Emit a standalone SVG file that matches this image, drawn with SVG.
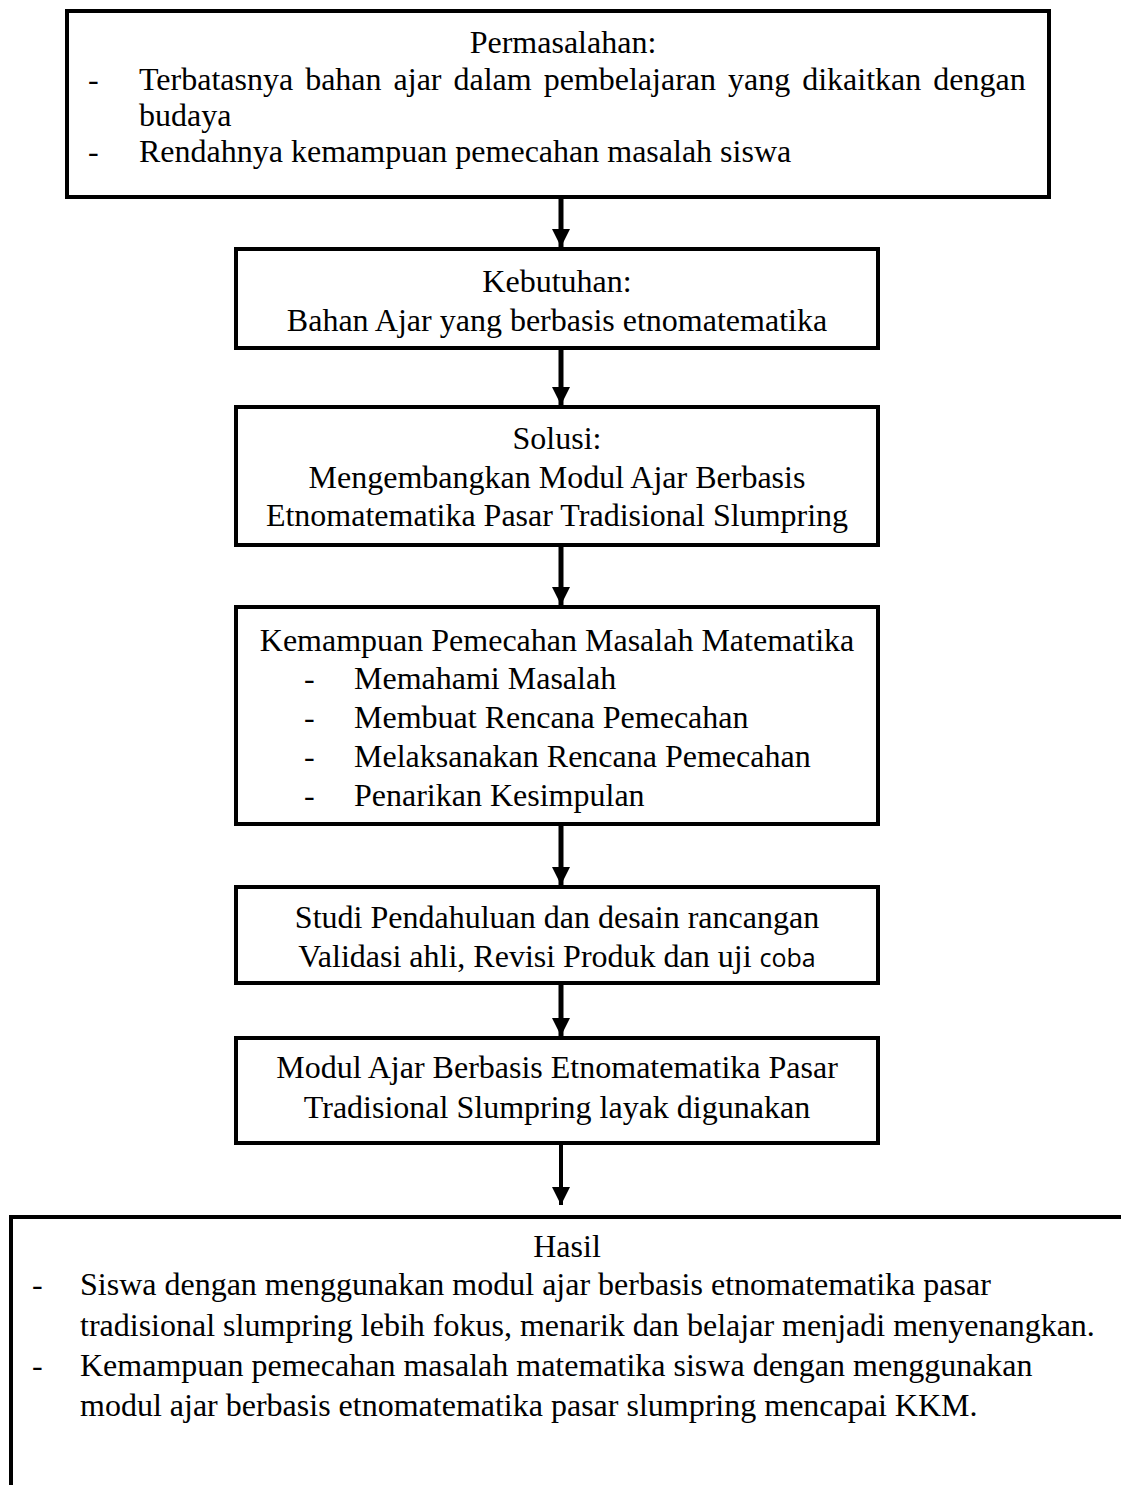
<svg xmlns="http://www.w3.org/2000/svg" width="1121" height="1485" viewBox="0 0 1121 1485">
<style>
.box{fill:#fff;stroke:#000;stroke-width:4}
.t{font-family:"Liberation Serif","Times New Roman",serif;font-size:32px;fill:#000}
.c{text-anchor:middle}
.conn{stroke:#000;stroke-width:5;fill:none}
.thin{stroke-width:4}
</style>
<defs>
<marker id="ah" markerUnits="userSpaceOnUse" markerWidth="20" markerHeight="20" viewBox="0 0 20 20" refX="18" refY="10" orient="auto">
<path d="M0,1 L18,10 L0,19 Z" fill="#000"/>
</marker>
</defs>
<rect width="1121" height="1485" fill="#fff"/>
<g id="n1">
<rect class="box" x="67" y="11" width="982" height="186"/>
<text class="t c" x="563" y="53">Permasalahan:</text>
<text class="t" x="88" y="90">-</text>
<text class="t" x="139" y="90" word-spacing="4">Terbatasnya bahan ajar dalam pembelajaran yang dikaitkan dengan</text>
<text class="t" x="139" y="126">budaya</text>
<text class="t" x="88" y="162">-</text>
<text class="t" x="139" y="162">Rendahnya kemampuan pemecahan masalah siswa</text>
</g>
<g id="n2">
<rect class="box" x="236" y="249" width="642" height="99"/>
<text class="t c" x="557" y="292">Kebutuhan:</text>
<text class="t c" x="557" y="331">Bahan Ajar yang berbasis etnomatematika</text>
</g>
<g id="n3">
<rect class="box" x="236" y="407" width="642" height="138"/>
<text class="t c" x="557" y="449">Solusi:</text>
<text class="t c" x="557" y="488">Mengembangkan Modul Ajar Berbasis</text>
<text class="t c" x="557" y="526">Etnomatematika Pasar Tradisional Slumpring</text>
</g>
<g id="n4">
<rect class="box" x="236" y="607" width="642" height="217"/>
<text class="t c" x="557" y="651">Kemampuan Pemecahan Masalah Matematika</text>
<text class="t" x="304" y="689">-</text>
<text class="t" x="354" y="689">Memahami Masalah</text>
<text class="t" x="304" y="728">-</text>
<text class="t" x="354" y="728">Membuat Rencana Pemecahan</text>
<text class="t" x="304" y="767">-</text>
<text class="t" x="354" y="767">Melaksanakan Rencana Pemecahan</text>
<text class="t" x="304" y="806">-</text>
<text class="t" x="354" y="806">Penarikan Kesimpulan</text>
</g>
<g id="n5">
<rect class="box" x="236" y="887" width="642" height="96"/>
<text class="t c" x="557" y="928">Studi Pendahuluan dan desain rancangan</text>
<text class="t c" x="557" y="967">Validasi ahli, Revisi Produk dan uji <tspan font-family="'Open Sans','Liberation Sans',sans-serif" font-size="25px">coba</tspan></text>
</g>
<g id="n6">
<rect class="box" x="236" y="1038" width="642" height="105"/>
<text class="t c" x="557" y="1078">Modul Ajar Berbasis Etnomatematika Pasar</text>
<text class="t c" x="557" y="1118">Tradisional Slumpring layak digunakan</text>
</g>
<g id="n7">
<rect class="box" x="11" y="1217" width="1130" height="290"/>
<text class="t c" x="567" y="1257">Hasil</text>
<text class="t" x="32" y="1295">-</text>
<text class="t" x="80" y="1295">Siswa dengan menggunakan modul ajar berbasis etnomatematika pasar</text>
<text class="t" x="80" y="1336">tradisional slumpring lebih fokus, menarik dan belajar menjadi menyenangkan.</text>
<text class="t" x="32" y="1376">-</text>
<text class="t" x="80" y="1376">Kemampuan pemecahan masalah matematika siswa dengan menggunakan</text>
<text class="t" x="80" y="1416">modul ajar berbasis etnomatematika pasar slumpring mencapai KKM.</text>
</g>
<g id="connectors">
<line class="conn" x1="561" y1="199" x2="561" y2="247" marker-end="url(#ah)"/>
<line class="conn" x1="561" y1="350" x2="561" y2="405" marker-end="url(#ah)"/>
<line class="conn" x1="561" y1="547" x2="561" y2="605" marker-end="url(#ah)"/>
<line class="conn" x1="561" y1="826" x2="561" y2="885" marker-end="url(#ah)"/>
<line class="conn" x1="561" y1="985" x2="561" y2="1036" marker-end="url(#ah)"/>
<line class="conn thin" x1="561" y1="1145" x2="561" y2="1205" marker-end="url(#ah)"/>
</g>
</svg>
